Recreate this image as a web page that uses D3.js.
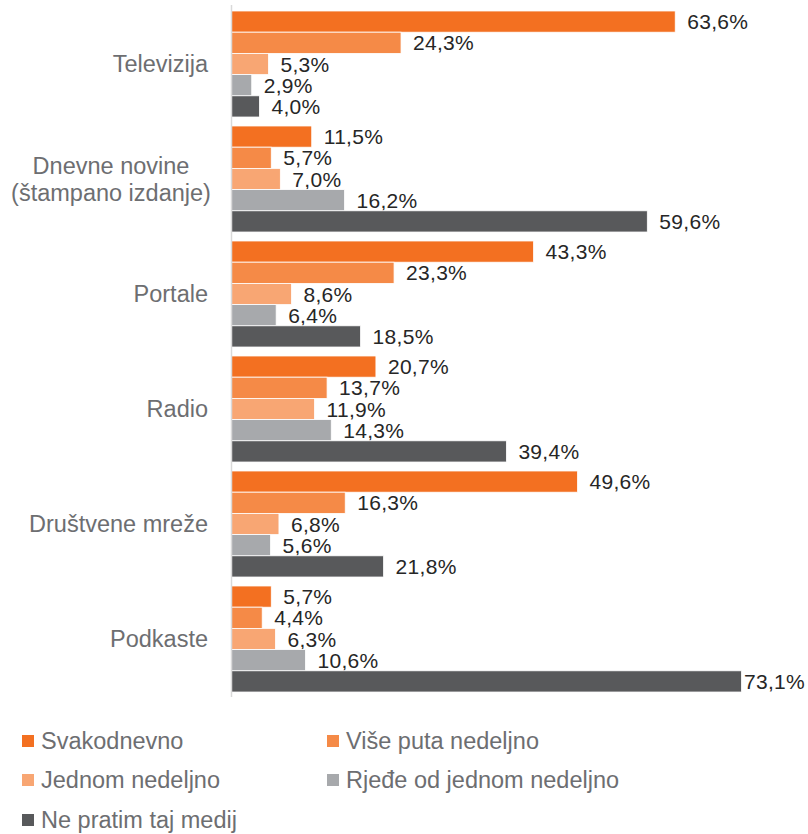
<!DOCTYPE html>
<html><head><meta charset="utf-8">
<script src="https://cdn.jsdelivr.net/npm/d3@7"></script>
<style>body{margin:0;background:#fff}svg{display:block}</style>
</head><body>
<svg id="c" width="808" height="834"></svg>
<script>
const categories = ["Televizija", "Dnevne novine\n(štampano izdanje)", "Portale", "Radio", "Društvene mreže", "Podkaste"];
const seriesNames = ["Svakodnevno", "Više puta nedeljno", "Jednom nedeljno", "Rjeđe od jednom nedeljno", "Ne pratim taj medij"];
const svakodnevno = [63.6, 11.5, 43.3, 20.7, 49.6, 5.7];
const visePuta = [24.3, 5.7, 23.3, 13.7, 16.3, 4.4];
const jednom = [5.3, 7.0, 8.6, 11.9, 6.8, 6.3];
const rjedje = [2.9, 16.2, 6.4, 14.3, 5.6, 10.6];
const nePratim = [4.0, 59.6, 18.5, 39.4, 21.8, 73.1];
const colors = ["#f37021", "#f58a47", "#f8a673", "#a7a9ac", "#58595b"];
const seriesValues = [svakodnevno, visePuta, jednom, rjedje, nePratim];

const W = 808, H = 834;
const svg = d3.select("#c");
const x = d3.scaleLinear().domain([0, 73.1]).range([231.5, 741.5]);
const y = d3.scaleBand().domain(categories).range([6.5, 696.5]).paddingInner(0.078).paddingOuter(0.039);
const yi = d3.scaleBand().domain(seriesNames).range([0, y.bandwidth()]);
const fmt = v => d3.format(".1f")(v).replace(".", ",") + "%";

const g = svg.append("g");
categories.forEach((cat, ci) => {
  const gg = g.append("g").attr("transform", `translate(0,${y(cat)})`);
  seriesNames.forEach((s, si) => {
    const v = seriesValues[si][ci];
    gg.append("rect").attr("x", x(0)).attr("y", yi(s)).attr("width", x(v) - x(0))
      .attr("height", yi.bandwidth()).attr("fill", colors[si])
      .attr("stroke", "#fff").attr("stroke-width", 0.8);
    const t = gg.append("text").attr("x", x(v) + 12).attr("y", yi(s) + yi.bandwidth() / 2)
      .attr("dy", "0.36em").attr("font-family", "Liberation Sans, Arial, sans-serif")
      .attr("font-size", 21).attr("letter-spacing", 0.3).attr("fill", "#262626").text(fmt(v));
    const w = t.node().getComputedTextLength();
    if (x(v) + 12 + w > W - 3) t.attr("x", W - 3 - w);
  });
});

// axis line
svg.append("line").attr("x1", x(0)).attr("x2", x(0)).attr("y1", 5).attr("y2", 697)
  .attr("stroke", "#d9d9d9").attr("stroke-width", 1.5);

// category labels
categories.forEach(cat => {
  const lines = cat.split("\n");
  const cy = y(cat) + y.bandwidth() / 2;
  const t = svg.append("text").attr("font-family", "Liberation Sans, Arial, sans-serif")
    .attr("font-size", 23.5).attr("fill", "#6d6e71");
  if (lines.length === 1) {
    t.attr("x", 208).attr("y", cy).attr("dy", "0.36em").attr("text-anchor", "end").text(cat);
  } else {
    lines.forEach((l, i) => {
      t.append("tspan").attr("x", 111).attr("text-anchor", "middle")
        .attr("y", cy + (i - (lines.length - 1) / 2) * 27).attr("dy", "0.36em").text(l);
    });
  }
});

// legend
const legPos = [[22, 741], [327, 741], [22, 780], [327, 780], [22, 820]];
seriesNames.forEach((s, i) => {
  const [lx, ly] = legPos[i];
  svg.append("rect").attr("x", lx).attr("y", ly - 6).attr("width", 12).attr("height", 12).attr("fill", colors[i]);
  svg.append("text").attr("x", lx + 19).attr("y", ly).attr("dy", "0.36em")
    .attr("font-family", "Liberation Sans, Arial, sans-serif").attr("font-size", 23.5)
    .attr("fill", "#6d6e71").text(s);
});
</script>
</body></html>
